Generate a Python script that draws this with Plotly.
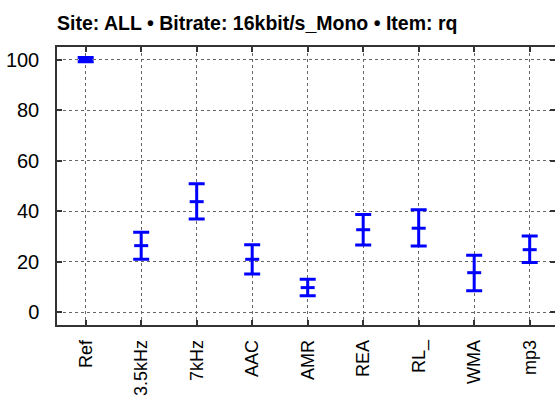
import plotly.graph_objects as go

categories = ["Ref", "3.5kHz", "7kHz", "AAC", "AMR", "REA", "RL_", "WMA", "mp3"]
means = [100.0, 26.4, 43.8, 21.0, 9.8, 32.7, 33.3, 15.7, 24.8]
upper = [100.8, 31.7, 50.9, 26.8, 13.1, 38.7, 40.6, 22.6, 30.2]
lower = [99.2, 21.0, 36.9, 15.2, 6.6, 26.7, 26.3, 8.6, 19.7]
y_ticks = [0, 20, 40, 60, 80, 100]
title_text = "Site: ALL • Bitrate: 16kbit/s_Mono • Item: rq"

err_plus = [u - m for u, m in zip(upper, means)]
err_minus = [m - l for m, l in zip(means, lower)]

fig = go.Figure()
fig.add_trace(go.Scatter(
    x=categories, y=means, mode="markers",
    marker=dict(symbol="line-ew", size=10, color="#0000ff",
                line=dict(color="#0000ff", width=3)),
    error_y=dict(type="data", symmetric=False, array=err_plus, arrayminus=err_minus,
                 color="#0000ff", thickness=3, width=8),
    showlegend=False,
))

font_family = "Liberation Sans, Arial, Helvetica, sans-serif"
fig.update_layout(
    width=555, height=401,
    margin=dict(l=57, r=0, t=47, b=76),
    paper_bgcolor="white", plot_bgcolor="white",
    font=dict(family=font_family, size=19, color="#000"),
    title=dict(text="<b>" + title_text + "</b>", x=0, xref="paper", xanchor="left",
               y=1 - 23 / 401, yref="container", yanchor="middle",
               font=dict(family=font_family, size=19.5, color="#000")),
)
fig.update_xaxes(
    type="category", range=[-0.517, 8.456], automargin=False,
    showline=True, linecolor="#333", linewidth=1.5, mirror="allticks",
    ticks="inside", ticklen=5, tickwidth=1.5, tickcolor="#333",
    showgrid=True, gridcolor="#666", griddash="dot", gridwidth=1,
    tickangle=-90, ticklabelstandoff=6, zeroline=False,
    tickfont=dict(size=18),
)
fig.update_yaxes(
    range=[-5, 105], tickvals=y_ticks, automargin=False,
    showline=True, linecolor="#333", linewidth=1.5, mirror="allticks",
    ticks="inside", ticklen=5, tickwidth=1.5, tickcolor="#333",
    showgrid=True, gridcolor="#666", griddash="dot", gridwidth=1,
    ticklabelstandoff=12, zeroline=False,
    tickfont=dict(size=20),
)
fig.write_html("out.html", config={"displayModeBar": False},
               post_script="document.body.style.margin='0';document.body.style.overflow='hidden';")
